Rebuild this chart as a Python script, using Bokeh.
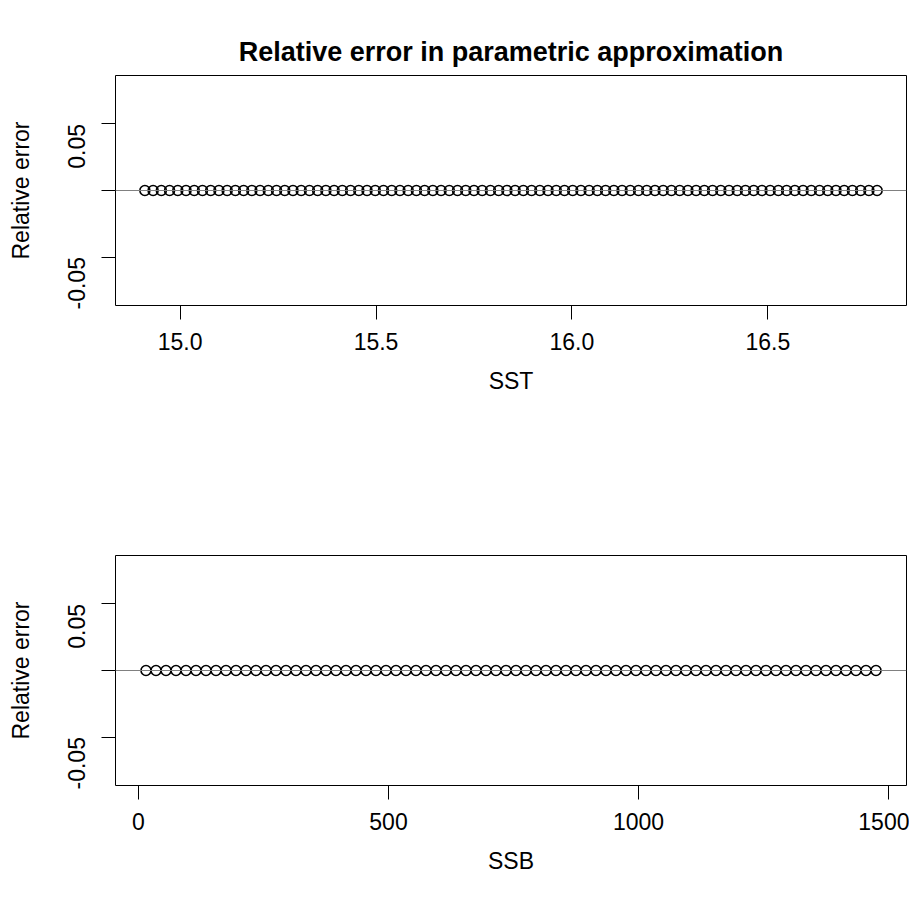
import math
from bokeh.plotting import figure
from bokeh.layouts import column
from bokeh.models import FixedTicker, CustomJSTickFormatter, Span, Range1d
from bokeh.embed import file_html
from bokeh.resources import INLINE

# ---- data ----
sst = [
    14.910, 14.931, 14.952, 14.973, 14.994, 15.015, 15.036, 15.057, 15.078, 15.099,
    15.120, 15.141, 15.162, 15.183, 15.204, 15.225, 15.246, 15.267, 15.288, 15.309,
    15.330, 15.351, 15.372, 15.393, 15.414, 15.435, 15.456, 15.477, 15.498, 15.519,
    15.540, 15.561, 15.582, 15.603, 15.624, 15.645, 15.666, 15.687, 15.708, 15.729,
    15.750, 15.771, 15.792, 15.813, 15.834, 15.855, 15.876, 15.897, 15.918, 15.939,
    15.960, 15.981, 16.002, 16.023, 16.044, 16.065, 16.086, 16.107, 16.128, 16.149,
    16.170, 16.191, 16.212, 16.233, 16.254, 16.275, 16.296, 16.317, 16.338, 16.359,
    16.380, 16.401, 16.422, 16.443, 16.464, 16.485, 16.506, 16.527, 16.548, 16.569,
    16.590, 16.611, 16.632, 16.653, 16.674, 16.695, 16.716, 16.737, 16.758, 16.779,
]
err_sst = [
    0, 0, 0, 0, 0, 0, 0, 0, 0, 0,
    0, 0, 0, 0, 0, 0, 0, 0, 0, 0,
    0, 0, 0, 0, 0, 0, 0, 0, 0, 0,
    0, 0, 0, 0, 0, 0, 0, 0, 0, 0,
    0, 0, 0, 0, 0, 0, 0, 0, 0, 0,
    0, 0, 0, 0, 0, 0, 0, 0, 0, 0,
    0, 0, 0, 0, 0, 0, 0, 0, 0, 0,
    0, 0, 0, 0, 0, 0, 0, 0, 0, 0,
    0, 0, 0, 0, 0, 0, 0, 0, 0, 0,
]
ssb = [
    15, 35, 55, 75, 95, 115, 135, 155, 175, 195,
    215, 235, 255, 275, 295, 315, 335, 355, 375, 395,
    415, 435, 455, 475, 495, 515, 535, 555, 575, 595,
    615, 635, 655, 675, 695, 715, 735, 755, 775, 795,
    815, 835, 855, 875, 895, 915, 935, 955, 975, 995,
    1015, 1035, 1055, 1075, 1095, 1115, 1135, 1155, 1175, 1195,
    1215, 1235, 1255, 1275, 1295, 1315, 1335, 1355, 1375, 1395,
    1415, 1435, 1455, 1475,
]
err_ssb = [
    0, 0, 0, 0, 0, 0, 0, 0, 0, 0,
    0, 0, 0, 0, 0, 0, 0, 0, 0, 0,
    0, 0, 0, 0, 0, 0, 0, 0, 0, 0,
    0, 0, 0, 0, 0, 0, 0, 0, 0, 0,
    0, 0, 0, 0, 0, 0, 0, 0, 0, 0,
    0, 0, 0, 0, 0, 0, 0, 0, 0, 0,
    0, 0, 0, 0, 0, 0, 0, 0, 0, 0,
    0, 0, 0, 0,
]
sst_ticks = [15.0, 15.5, 16.0, 16.5]
ssb_ticks = [0, 500, 1000, 1500]
err_ticks = [-0.05, 0.0, 0.05]

FONT = "Liberation Sans"
TICK_PX = "23px"
LAB_PX = "23px"


def style(p, xticks, xfmt, xlabel):
    p.xgrid.visible = False
    p.ygrid.visible = False
    p.outline_line_color = "black"
    p.outline_line_width = 1
    p.background_fill_color = "white"
    p.border_fill_color = "white"
    for ax in (p.xaxis[0], p.yaxis[0]):
        ax.axis_line_color = None
        ax.major_tick_line_color = "black"
        ax.major_tick_line_width = 1
        ax.major_tick_out = 14
        ax.major_tick_in = 0
        ax.minor_tick_line_color = None
        ax.major_label_text_font = FONT
        ax.major_label_text_font_size = TICK_PX
        ax.major_label_text_color = "black"
        ax.axis_label_text_font = FONT
        ax.axis_label_text_font_size = LAB_PX
        ax.axis_label_text_font_style = "normal"
        ax.axis_label_text_color = "black"
    p.xaxis[0].ticker = FixedTicker(ticks=xticks)
    p.xaxis[0].formatter = CustomJSTickFormatter(code=xfmt)
    p.xaxis[0].axis_label = xlabel
    p.xaxis[0].major_label_standoff = 13
    p.xaxis[0].axis_label_standoff = 15
    p.yaxis[0].ticker = FixedTicker(ticks=err_ticks)
    p.yaxis[0].formatter = CustomJSTickFormatter(
        code="return Math.abs(tick) < 1e-9 ? '' : tick.toFixed(2);")
    p.yaxis[0].major_label_orientation = math.pi / 2
    p.yaxis[0].axis_label = "Relative error"
    p.yaxis[0].major_label_standoff = 25
    p.yaxis[0].axis_label_standoff = 23
    p.add_layout(Span(location=0, dimension="width", line_color="#808080", line_width=1.2))


# top panel
p1 = figure(frame_width=791, frame_height=230, output_backend="svg",
            toolbar_location=None, x_range=Range1d(14.835, 16.854),
            y_range=Range1d(-0.0864, 0.0864),
            min_border_left=115, min_border_right=3, min_border_top=75,
            min_border_bottom=125,
            title="Relative error in parametric approximation")
p1.title.align = "center"
p1.title.text_font = FONT
p1.title.text_font_size = "27px"
p1.title.text_font_style = "bold"
p1.title.text_color = "black"
p1.title.standoff = 18
style(p1, sst_ticks, "return tick.toFixed(1);", "SST")
p1.scatter(sst, err_sst, marker="circle", size=10, fill_color=None,
           line_color="black", line_width=1.6)

# bottom panel
p2 = figure(frame_width=791, frame_height=230, output_backend="svg",
            toolbar_location=None, x_range=Range1d(-46, 1536),
            y_range=Range1d(-0.0864, 0.0864),
            min_border_left=115, min_border_right=3, min_border_top=125,
            min_border_bottom=100)
style(p2, ssb_ticks, "return tick.toFixed(0);", "SSB")
p2.scatter(ssb, err_ssb, marker="circle", size=10, fill_color=None,
           line_color="black", line_width=1.6)

layout = column(p1, p2, spacing=0)
open("out.html", "w").write(file_html(layout, INLINE))
